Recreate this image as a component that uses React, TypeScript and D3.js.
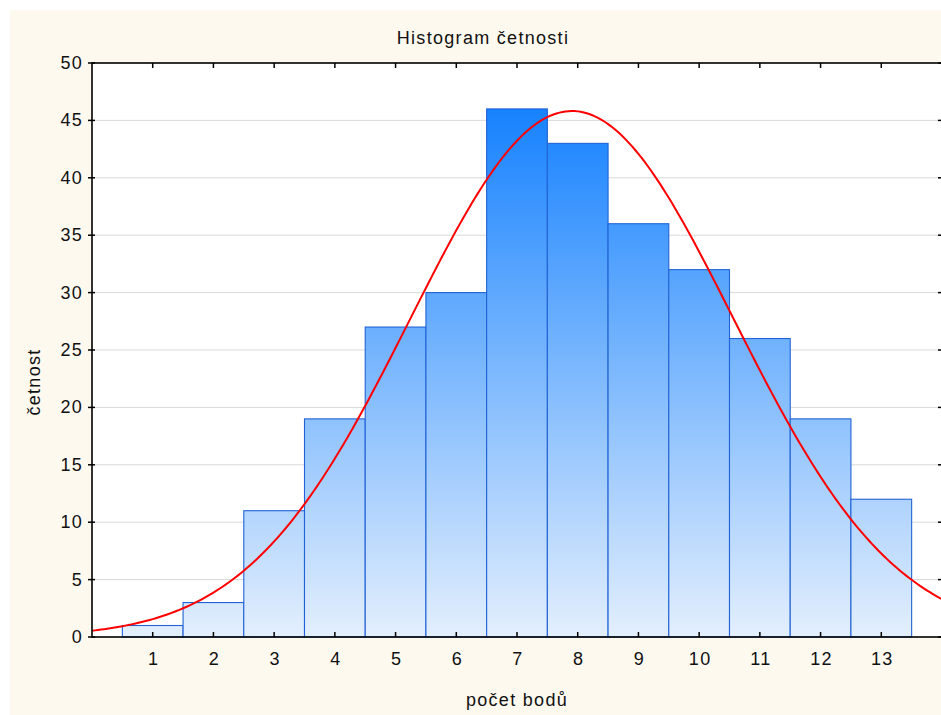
import React from "react";
import * as d3 from "d3";

const categories: number[] = [1, 2, 3, 4, 5, 6, 7, 8, 9, 10, 11, 12, 13];
const counts: number[] = [1, 3, 11, 19, 27, 30, 46, 43, 36, 32, 26, 19, 12];
const yTicks: number[] = [0, 5, 10, 15, 20, 25, 30, 35, 40, 45, 50];
const title = "Histogram četnosti";
const xTitle = "počet bodů";
const yTitle = "četnost";

const W = 941;
const H = 715;
const L = 92;
const R = 942;
const T = 63;
const B = 637;

export default function App() {
  const x = d3.scaleLinear().domain([0, 14]).range([L, R]);
  const y = d3.scaleLinear().domain([0, 50]).range([B, T]);

  // fitted normal curve from the histogram data
  const n = d3.sum(counts);
  const mean = d3.sum(categories.map((c, i) => c * counts[i])) / n;
  const variance =
    d3.sum(categories.map((c, i) => (c - mean) ** 2 * counts[i])) / (n - 1);
  const sd = Math.sqrt(variance);
  const xs = d3.range(0, 14.001, 0.05);
  const pdf = (v: number) =>
    (n / (sd * Math.sqrt(2 * Math.PI))) *
    Math.exp(-((v - mean) ** 2) / (2 * variance));
  const line = d3
    .line<number>()
    .x((v) => x(v))
    .y((v) => y(pdf(v)))
    .curve(d3.curveLinear);

  const maxCount = d3.max(counts) as number;
  const font = "'Liberation Sans', Arial, sans-serif";
  const fs = 18;
  const ls = 1.3;

  return (
    <svg
      width={W}
      height={H}
      style={{ position: "absolute", left: 0, top: 0 }}
      fontFamily={font}
    >
      <defs>
        <linearGradient
          id="barGrad"
          gradientUnits="userSpaceOnUse"
          x1={0}
          x2={0}
          y1={y(maxCount)}
          y2={y(0)}
        >
          <stop offset="0" stopColor="#1782fe" />
          <stop offset="1" stopColor="#e3effd" />
        </linearGradient>
        <clipPath id="plotClip">
          <rect x={L} y={T} width={R - L} height={B - T} />
        </clipPath>
      </defs>
      <rect x={0} y={0} width={W} height={H} fill="#ffffff" />
      <rect x={10} y={10} width={W - 10} height={H - 10} fill="#fdf9ef" />
      <rect x={L} y={T} width={R - L} height={B - T} fill="#ffffff" />
      {/* grid */}
      {yTicks.slice(1, -1).map((t) => (
        <line
          key={"g" + t}
          x1={L}
          x2={R}
          y1={y(t)}
          y2={y(t)}
          stroke="#d9d9d9"
          strokeWidth={1}
        />
      ))}
      {/* bars */}
      {categories.map((c, i) => (
        <rect
          key={"b" + c}
          x={x(c - 0.5)}
          y={y(counts[i])}
          width={x(c + 0.5) - x(c - 0.5)}
          height={y(0) - y(counts[i])}
          fill="url(#barGrad)"
          stroke="#2163d6"
          strokeWidth={1.1}
        />
      ))}
      {/* curve */}
      <path
        d={line(xs) || ""}
        fill="none"
        stroke="#ff0000"
        strokeWidth={2}
        clipPath="url(#plotClip)"
      />
      {/* frame */}
      <rect
        x={L}
        y={T}
        width={R - L}
        height={B - T}
        fill="none"
        stroke="#000"
        strokeWidth={1.6}
      />
      {/* y ticks */}
      {yTicks.map((t) => (
        <g key={"yt" + t}>
          <line x1={L - 4} x2={L + 3} y1={y(t)} y2={y(t)} stroke="#000" strokeWidth={1.5} />
          <line x1={R - 4} x2={R} y1={y(t)} y2={y(t)} stroke="#000" strokeWidth={1.5} />
          <text
            x={L - 9}
            y={y(t)}
            textAnchor="end"
            dominantBaseline="central"
            fontSize={fs}
            letterSpacing={ls}
            fill="#111"
          >
            {t}
          </text>
        </g>
      ))}
      {/* x ticks */}
      {categories.map((c) => (
        <g key={"xt" + c}>
          <line x1={x(c)} x2={x(c)} y1={B} y2={B - 5} stroke="#000" strokeWidth={1.5} />
          <line x1={x(c)} x2={x(c)} y1={T} y2={T + 5} stroke="#000" strokeWidth={1.5} />
          <text
            x={x(c) + 1}
            y={665}
            textAnchor="middle"
            fontSize={fs}
            letterSpacing={ls}
            fill="#111"
          >
            {c}
          </text>
        </g>
      ))}
      <text x={483} y={44} textAnchor="middle" fontSize={fs} letterSpacing={ls} fill="#111">
        {title}
      </text>
      <text x={517} y={706} textAnchor="middle" fontSize={fs} letterSpacing={ls} fill="#111">
        {xTitle}
      </text>
      <text
        transform={`translate(40,382) rotate(-90)`}
        textAnchor="middle"
        fontSize={fs}
        letterSpacing={ls}
        fill="#111"
      >
        {yTitle}
      </text>
    </svg>
  );
}
